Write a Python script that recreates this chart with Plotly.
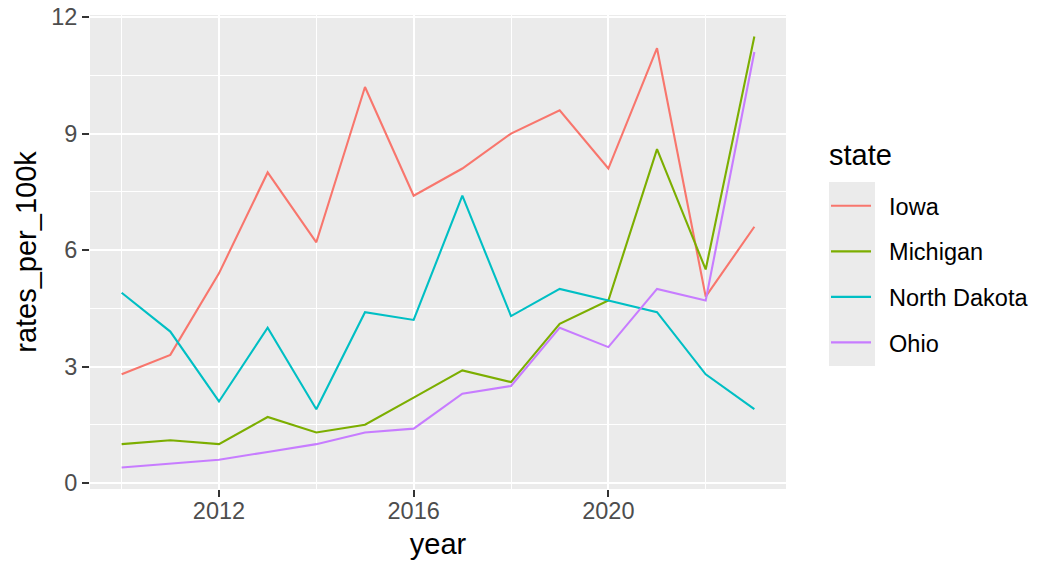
import plotly.graph_objects as go

years = list(range(2010, 2024))
states = ["Iowa", "Michigan", "North Dakota", "Ohio"]
iowa = [2.8, 3.3, 5.4, 8.0, 6.2, 10.2, 7.4, 8.1, 9.0, 9.6, 8.1, 11.2, 4.8, 6.6]
michigan = [1.0, 1.1, 1.0, 1.7, 1.3, 1.5, 2.2, 2.9, 2.6, 4.1, 4.7, 8.6, 5.5, 11.5]
north_dakota = [4.9, 3.9, 2.1, 4.0, 1.9, 4.4, 4.2, 7.4, 4.3, 5.0, 4.7, 4.4, 2.8, 1.9]
ohio = [0.4, 0.5, 0.6, 0.8, 1.0, 1.3, 1.4, 2.3, 2.5, 4.0, 3.5, 5.0, 4.7, 11.1]
colors = ["#F8766D", "#7CAE00", "#00BFC4", "#C77CFF"]

series = [iowa, michigan, north_dakota, ohio]

fig = go.Figure()
for name, vals, col in zip(states, series, colors):
    fig.add_trace(go.Scatter(x=years, y=vals, mode="lines",
                             name="\u00a0\u00a0" + name,
                             legendgroup=name,
                             line=dict(color=col, width=2.1)))

FONT = "Liberation Sans, Arial, sans-serif"
W, H = 1056, 576
# desired panel position on screen (page body margin removed below)
SL, SR, ST, SB = 90, 786, 15, 489
L, T = SL, ST
R, B = W - SR, H - SB
PW, PH = SR - SL, SB - ST


def px_x(p):
    return (p - SL) / PW


def px_y(p):
    return (SB - p) / PH


fig.update_layout(
    width=W, height=H,
    margin=dict(l=L, r=R, t=T, b=B, autoexpand=False),
    paper_bgcolor="white",
    plot_bgcolor="#EBEBEB",
    font=dict(family=FONT, color="black"),
    showlegend=True,
    legend=dict(
        font=dict(size=23.5, color="black"),
        x=px_x(826), y=px_y(184), xanchor="left", yanchor="top",
        bgcolor="rgba(0,0,0,0)",
        tracegroupgap=12,
        itemwidth=40,
    ),
    shapes=[dict(type="rect", xref="paper", yref="paper",
                 x0=px_x(829), x1=px_x(875), y0=px_y(366), y1=px_y(182),
                 fillcolor="#EBEBEB", line=dict(width=0), layer="below")],
    annotations=[dict(text="state", xref="paper", yref="paper",
                      x=px_x(827), y=px_y(155), xanchor="left", yanchor="middle",
                      showarrow=False, font=dict(size=29, color="black"))],
)
fig.update_xaxes(
    range=[2009.35, 2023.65],
    tick0=2012, dtick=4,
    showgrid=True, gridcolor="white", gridwidth=2.1,
    minor=dict(showgrid=True, gridcolor="white", gridwidth=1.1, dtick=2, tick0=2010),
    ticks="outside", ticklen=7, tickcolor="#333333", tickwidth=2.1,
    tickfont=dict(size=23.5, color="#4D4D4D"),
    ticklabelstandoff=-6, ticklabeloverflow="allow",
    title=dict(text="year", font=dict(size=29, color="black"), standoff=10),
    zeroline=False, showline=False, automargin=False,
)
fig.update_yaxes(
    range=[-0.155, 12.055],
    tick0=0, dtick=3,
    showgrid=True, gridcolor="white", gridwidth=2.1,
    minor=dict(showgrid=True, gridcolor="white", gridwidth=1.1, dtick=1.5, tick0=0),
    ticks="outside", ticklen=7, tickcolor="#333333", tickwidth=2.1,
    tickfont=dict(size=23.5, color="#4D4D4D"),
    ticklabeloverflow="allow",
    title=dict(text="rates_per_100k", font=dict(size=29, color="black"), standoff=6),
    zeroline=False, showline=False, automargin=False,
)

fig.write_html("out.html", config={"displayModeBar": False},
               post_script="document.body.style.margin='0';")
